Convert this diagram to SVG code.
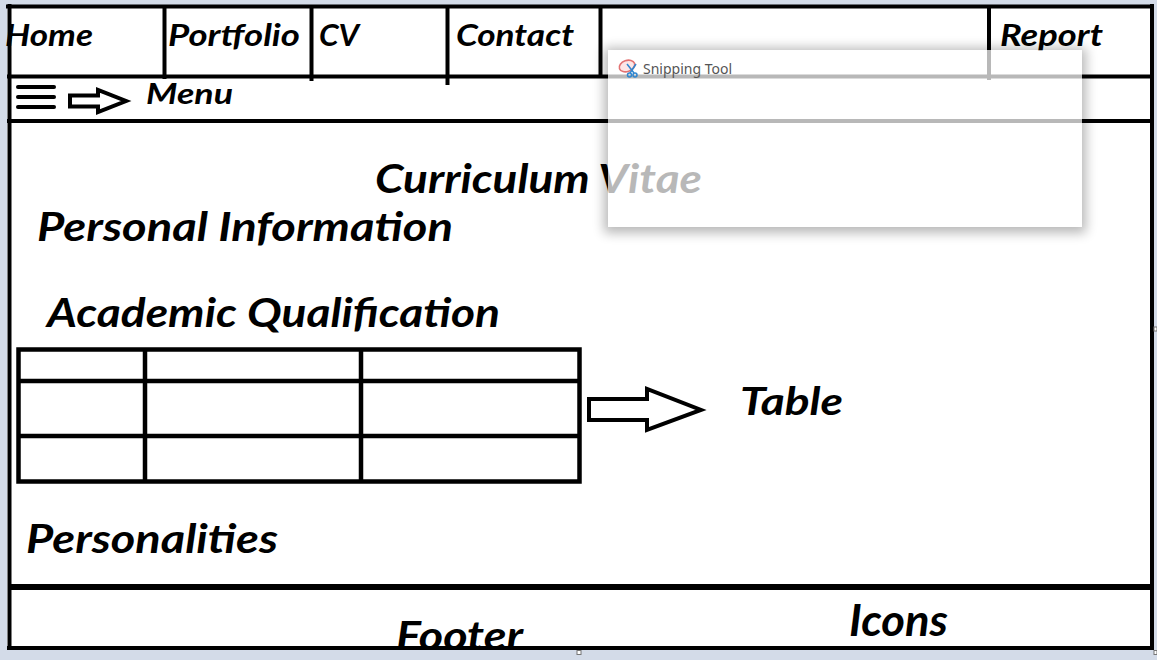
<svg xmlns="http://www.w3.org/2000/svg" width="1157" height="660" viewBox="0 0 1157 660">
<style>
.t{font-family:Lato,"Open Sans","Noto Sans",sans-serif;font-weight:700;font-style:italic;fill:#000}
.ln{stroke:#000;stroke-width:4;fill:none;stroke-linecap:square}
.arr{stroke:#000;stroke-width:4;fill:#fff;stroke-linejoin:miter}
.snip{font-family:"Noto Sans","Open Sans",sans-serif;font-size:14px;fill:#555}
</style>
<defs>
<filter id="blur" x="-10%" y="-10%" width="120%" height="130%"><feGaussianBlur stdDeviation="6"/></filter>
<mask id="outside"><rect x="0" y="0" width="1157" height="660" fill="#fff"/><rect x="608" y="50" width="474" height="177" fill="#000"/></mask>
<clipPath id="footclip"><rect x="0" y="590" width="1157" height="56"/></clipPath>
</defs>
<rect x="0" y="0" width="1157" height="660" fill="#d3dbe8"/>
<rect x="7" y="5" width="1147" height="645" fill="#fff"/>
<g id="frame">
<line class="ln" x1="8" y1="6.5" x2="1152" y2="6.5"/>
<line class="ln" x1="9.5" y1="6" x2="9.5" y2="648"/>
<line class="ln" x1="1152" y1="6" x2="1152" y2="648"/>
<line class="ln" x1="9" y1="648" x2="1152" y2="648"/>
<line class="ln" x1="9" y1="76.5" x2="1152" y2="76.5"/>
<line class="ln" x1="9" y1="121" x2="1152" y2="121"/>
<line x1="10" y1="587" x2="1152" y2="587" stroke="#000" stroke-width="6"/>
</g>
<g id="nav-home"><text class="t" x="5" y="46" font-size="30" textLength="88" lengthAdjust="spacingAndGlyphs">Home</text><line class="ln" x1="164.5" y1="7" x2="164.5" y2="77"/></g>
<g id="nav-portfolio"><text class="t" x="168" y="46" font-size="30" textLength="132" lengthAdjust="spacingAndGlyphs">Portfolio</text><line class="ln" x1="311.5" y1="7" x2="311.5" y2="79"/></g>
<g id="nav-cv"><text class="t" x="319" y="46" font-size="30" textLength="40" lengthAdjust="spacingAndGlyphs">CV</text><line class="ln" x1="447.5" y1="7" x2="447.5" y2="83"/></g>
<g id="nav-contact"><text class="t" x="456" y="46" font-size="30" textLength="118" lengthAdjust="spacingAndGlyphs">Contact</text><line class="ln" x1="600.5" y1="7" x2="600.5" y2="76"/></g>
<g id="nav-report"><line class="ln" x1="989" y1="7" x2="989" y2="78"/><text class="t" x="1000" y="46" font-size="30" textLength="103" lengthAdjust="spacingAndGlyphs">Report</text></g>
<g id="menu">
<g stroke="#000" stroke-width="4" stroke-linecap="round"><line x1="18" y1="87" x2="54" y2="87"/><line x1="18" y1="97" x2="54" y2="97"/><line x1="18" y1="107" x2="54" y2="107"/></g>
<text class="t" x="146" y="104" font-size="29" textLength="87" lengthAdjust="spacingAndGlyphs">Menu</text>
</g>
<g id="title"><text class="t" x="375" y="193" font-size="41" textLength="327" lengthAdjust="spacingAndGlyphs">Curriculum Vitae</text></g>
<g id="personal-info"><text class="t" x="37" y="241" font-size="40" textLength="416" lengthAdjust="spacingAndGlyphs">Personal Information</text></g>
<g id="academic"><text class="t" x="47" y="327" font-size="40" textLength="453" lengthAdjust="spacingAndGlyphs">Academic Qualification</text></g>
<g id="table">
<rect x="18.5" y="349.5" width="561" height="132" fill="none" stroke="#000" stroke-width="4.5"/>
<line x1="18" y1="381" x2="580" y2="381" stroke="#000" stroke-width="4.5"/>
<line x1="18" y1="436" x2="580" y2="436" stroke="#000" stroke-width="4.5"/>
<line x1="145" y1="350" x2="145" y2="481" stroke="#000" stroke-width="4.5"/>
<line x1="361" y1="350" x2="361" y2="481" stroke="#000" stroke-width="4.5"/>
</g>
<g id="table-label"><text class="t" x="740" y="415" font-size="39" textLength="103" lengthAdjust="spacingAndGlyphs">Table</text></g>
<g id="personalities"><text class="t" x="26" y="553" font-size="40" textLength="252" lengthAdjust="spacingAndGlyphs">Personalities</text></g>
<g id="footer">
<text class="t" x="396" y="650" font-size="41" textLength="127" lengthAdjust="spacingAndGlyphs" clip-path="url(#footclip)">Footer</text>
</g>
<g id="icons"><text class="t" x="849" y="636" font-size="43" textLength="99" lengthAdjust="spacingAndGlyphs">Icons</text></g>
<g id="connectors">
<path class="arr" stroke-width="3.5" d="M70,95.5 H98 V90 L126,101 L98,112 V106.5 H70 Z"/>
<path class="arr" d="M589,399 H647 V389 L701,410 L647,430 V420 H589 Z"/>
</g>
<g id="handles" fill="#fff" stroke="#777" stroke-width="1">
<rect x="577" y="650.5" width="4" height="4"/>
<rect x="1154" y="327" width="3" height="4"/>
<rect x="1154" y="650.5" width="3" height="4"/>
</g>
<g id="snipping-tool">
<rect x="604" y="48" width="482" height="185" fill="#000" opacity="0.28" filter="url(#blur)" mask="url(#outside)"/>
<rect x="608" y="50" width="474" height="177" fill="#fff" opacity="0.72"/>
<ellipse cx="627" cy="66" rx="8" ry="5.5" transform="rotate(-20 627 66)" fill="#fde6e6" stroke="#e27272" stroke-width="1.6"/>
<g stroke="#2f86d0" stroke-width="1.5" fill="none"><line x1="627" y1="64" x2="634" y2="73"/><line x1="636" y1="64" x2="630" y2="73"/><circle cx="629.5" cy="75" r="2"/><circle cx="635" cy="75" r="2"/></g>
<text class="snip" x="643" y="74">Snipping Tool</text>
</g>
</svg>
